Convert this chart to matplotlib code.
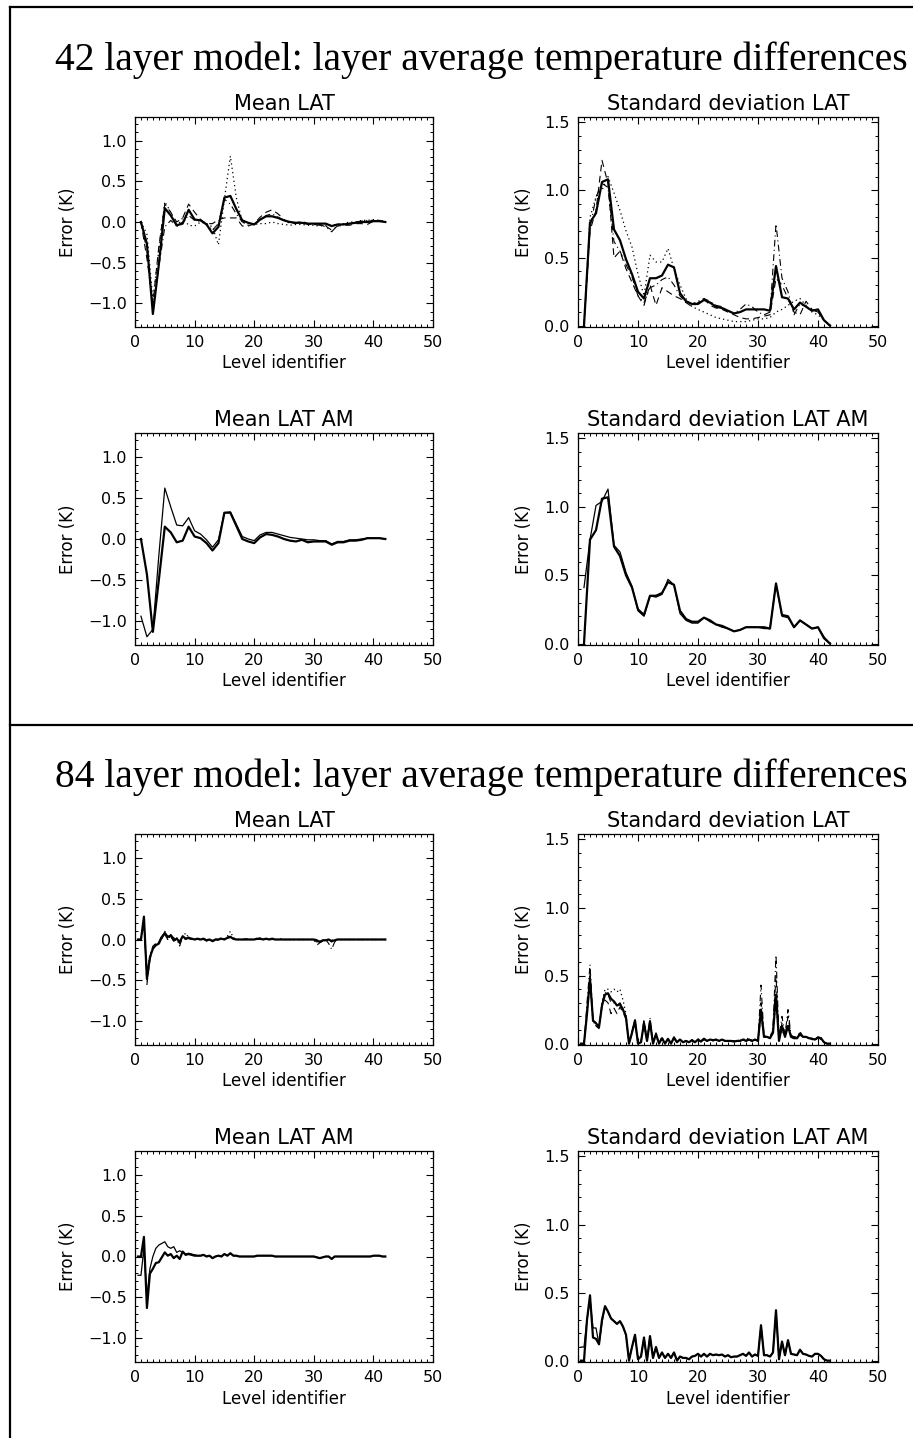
import matplotlib
matplotlib.use("Agg")
import matplotlib.pyplot as plt
from matplotlib.lines import Line2D
from matplotlib.ticker import MultipleLocator

# level identifiers
x42 = list(range(1, 43))
x84 = [0.5 * (i + 1) for i in range(84)]

# ---- 42 layer model ----
mean42_solid = [0.00, -0.27, -1.13, -0.52, 0.17, 0.08, -0.04, -0.02, 0.15, 0.03, 0.02, -0.03, -0.14, -0.06,
                0.30, 0.32, 0.16, 0.02, -0.01, -0.03, 0.03, 0.07, 0.07, 0.05, 0.02, 0.00, -0.01, -0.01,
                -0.02, -0.02, -0.02, -0.02, -0.05, -0.03, -0.03, -0.02, -0.01, 0.00, 0.00, 0.01, 0.01, 0.00]
mean42_dot = [0.00, -0.15, -0.95, -0.35, 0.25, 0.12, -0.06, 0.05, -0.04, -0.05, 0.00, -0.02, -0.06, -0.28,
              0.28, 0.81, 0.30, 0.00, -0.04, -0.03, -0.02, -0.02, 0.00, -0.02, -0.03, -0.04, -0.03, -0.03,
              -0.04, -0.04, -0.05, -0.04, -0.04, -0.03, -0.02, 0.00, 0.00, 0.02, 0.02, 0.03, 0.02, 0.00]
mean42_dash = [0.00, -0.45, -1.00, -0.30, 0.22, 0.12, 0.00, 0.05, 0.22, 0.12, 0.03, -0.02, -0.02, 0.03,
               0.05, 0.05, 0.05, -0.05, -0.05, -0.02, 0.06, 0.12, 0.15, 0.10, 0.03, -0.02, -0.01, 0.01,
               -0.02, -0.03, -0.04, -0.05, -0.10, -0.05, -0.04, -0.04, -0.02, -0.02, -0.03, 0.01, 0.02, 0.00]
mean42_dashdot = [0.00, -0.35, -1.05, -0.55, -0.06, 0.02, -0.05, 0.00, 0.08, 0.02, 0.01, -0.02, -0.10, -0.02,
                  0.28, 0.22, 0.10, 0.00, -0.02, -0.03, 0.02, 0.08, 0.10, 0.06, 0.02, 0.00, -0.02, 0.00,
                  -0.03, -0.03, -0.03, -0.06, -0.12, -0.04, -0.03, -0.02, 0.00, 0.01, 0.02, 0.02, 0.01, 0.00]

std42_solid = [0.00, 0.76, 0.83, 1.06, 1.08, 0.71, 0.63, 0.49, 0.38, 0.25, 0.20, 0.35, 0.35, 0.37,
               0.45, 0.43, 0.24, 0.18, 0.16, 0.16, 0.19, 0.17, 0.14, 0.13, 0.11, 0.09, 0.10, 0.12,
               0.12, 0.12, 0.12, 0.11, 0.44, 0.21, 0.20, 0.12, 0.17, 0.14, 0.11, 0.12, 0.04, 0.00]
std42_dot = [0.00, 0.80, 0.95, 1.00, 1.10, 0.98, 0.85, 0.70, 0.58, 0.38, 0.22, 0.52, 0.47, 0.47,
             0.57, 0.42, 0.30, 0.20, 0.14, 0.12, 0.10, 0.08, 0.06, 0.05, 0.04, 0.03, 0.03, 0.03,
             0.04, 0.05, 0.05, 0.06, 0.10, 0.12, 0.15, 0.18, 0.20, 0.15, 0.10, 0.08, 0.04, 0.00]
std42_dash = [0.00, 0.70, 0.85, 1.22, 1.05, 0.50, 0.55, 0.42, 0.32, 0.22, 0.15, 0.30, 0.15, 0.28,
              0.25, 0.22, 0.20, 0.17, 0.14, 0.17, 0.20, 0.15, 0.13, 0.12, 0.10, 0.08, 0.06, 0.05,
              0.05, 0.06, 0.07, 0.08, 0.35, 0.30, 0.20, 0.10, 0.08, 0.18, 0.12, 0.10, 0.04, 0.00]
std42_dashdot = [0.00, 0.72, 0.95, 1.05, 1.02, 0.62, 0.55, 0.45, 0.36, 0.22, 0.17, 0.28, 0.30, 0.34,
                 0.36, 0.30, 0.22, 0.17, 0.16, 0.18, 0.20, 0.18, 0.15, 0.14, 0.11, 0.09, 0.12, 0.16,
                 0.14, 0.10, 0.08, 0.10, 0.75, 0.35, 0.25, 0.08, 0.16, 0.14, 0.12, 0.10, 0.04, 0.00]

mean42_am_thick = [0.00, -0.43, -1.13, -0.50, 0.15, 0.08, -0.04, -0.02, 0.15, 0.03, 0.01, -0.05, -0.14, -0.05,
                   0.32, 0.32, 0.16, 0.00, -0.03, -0.05, 0.02, 0.06, 0.05, 0.03, 0.00, -0.02, -0.03, -0.01,
                   -0.04, -0.03, -0.03, -0.03, -0.07, -0.04, -0.04, -0.02, -0.02, -0.01, 0.01, 0.01, 0.01, 0.00]
mean42_am_thin = [-0.94, -1.19, -1.10, -0.20, 0.62, 0.39, 0.17, 0.16, 0.26, 0.10, 0.06, -0.01, -0.10, -0.01,
                  0.32, 0.33, 0.18, 0.03, 0.00, -0.02, 0.05, 0.08, 0.08, 0.06, 0.04, 0.02, 0.01, 0.00,
                  -0.01, -0.01, -0.02, -0.02, -0.06, -0.03, -0.03, -0.01, -0.01, 0.00, 0.01, 0.01, 0.01, 0.00]

std42_am_thick = [0.00, 0.76, 0.83, 1.06, 1.07, 0.71, 0.64, 0.50, 0.41, 0.25, 0.21, 0.35, 0.35, 0.37,
                  0.45, 0.43, 0.24, 0.18, 0.16, 0.16, 0.19, 0.17, 0.14, 0.13, 0.11, 0.09, 0.10, 0.12,
                  0.12, 0.12, 0.12, 0.11, 0.44, 0.21, 0.20, 0.12, 0.17, 0.14, 0.11, 0.12, 0.04, 0.00]
std42_am_thin = [0.41, 0.76, 1.01, 1.04, 1.13, 0.72, 0.67, 0.52, 0.42, 0.24, 0.20, 0.35, 0.34, 0.36,
                 0.47, 0.43, 0.22, 0.17, 0.15, 0.15, 0.19, 0.16, 0.14, 0.12, 0.11, 0.09, 0.10, 0.12,
                 0.12, 0.12, 0.11, 0.11, 0.44, 0.20, 0.19, 0.12, 0.17, 0.14, 0.11, 0.12, 0.05, 0.00]

# ---- 84 layer model (two points per 42-level identifier) ----
mean84_solid = [0.00, 0.00, 0.28, -0.48, -0.22, -0.11, -0.07, -0.05, 0.03, 0.08, 0.03, 0.05, -0.01, 0.01,
                -0.03, 0.04, 0.01, 0.02, 0.01, 0.00,
                0.01, 0.00, 0.01, -0.01, 0.00, -0.02, 0.00, 0.00, 0.01, 0.00, 0.02, 0.03, 0.01, 0.00,
                0.00, 0.00, 0.00, 0.00, 0.00, 0.00,
                0.01, 0.01, 0.00, 0.01, 0.00, 0.01, 0.00, 0.00, 0.00, 0.00, 0.00, 0.00, 0.00, 0.00,
                0.00, 0.00, 0.00, 0.00, 0.00, 0.00,
                -0.01, -0.03, -0.01, -0.01, 0.00, -0.02, -0.01, 0.00, 0.00, 0.00, 0.00, 0.00, 0.00, 0.00,
                0.00, 0.00, 0.00, 0.00, 0.00, 0.00, 0.00, 0.00, 0.00, 0.00]
mean84_dot = [0.00, 0.00, 0.20, -0.42, -0.20, -0.10, -0.05, -0.04, 0.02, 0.10, 0.02, 0.03, 0.00, 0.02,
              -0.02, 0.03, 0.08, 0.02, 0.01, 0.00,
              0.01, 0.01, 0.00, 0.00, 0.00, -0.01, 0.00, 0.01, 0.02, 0.01, 0.04, 0.10, 0.02, 0.01,
              0.00, 0.00, 0.00, 0.01, 0.00, 0.00,
              0.01, 0.02, 0.01, 0.01, 0.00, 0.01, 0.00, 0.00, 0.01, 0.00, 0.00, 0.00, 0.00, 0.00,
              0.00, 0.00, 0.00, 0.00, 0.00, 0.00,
              0.00, -0.02, 0.00, -0.01, 0.00, -0.01, 0.00, 0.00, 0.00, 0.00, 0.00, 0.00, 0.00, 0.00,
              0.00, 0.00, 0.00, 0.00, 0.00, 0.00, 0.00, 0.00, 0.00, 0.00]
mean84_dash = [0.00, 0.00, 0.25, -0.55, -0.25, -0.12, -0.06, -0.03, 0.05, 0.06, 0.00, 0.06, 0.02, 0.00,
               -0.05, 0.02, 0.00, 0.03, 0.00, 0.00,
               0.01, -0.01, 0.01, -0.02, 0.00, -0.03, 0.00, -0.01, 0.01, 0.00, 0.02, 0.02, 0.00, 0.00,
               0.00, 0.00, 0.01, 0.00, 0.00, 0.00,
               0.01, 0.00, 0.00, 0.01, 0.00, 0.00, 0.00, 0.00, 0.00, 0.00, 0.00, 0.00, 0.00, 0.00,
               0.00, 0.00, 0.00, 0.00, 0.00, 0.00,
               -0.07, -0.04, -0.02, 0.00, 0.00, -0.03, 0.00, 0.00, 0.00, 0.00, 0.00, 0.00, 0.00, 0.00,
               0.00, 0.00, 0.00, 0.00, 0.00, 0.00, 0.00, 0.00, 0.00, 0.00]
mean84_dashdot = [0.00, 0.00, 0.22, -0.52, -0.20, -0.08, -0.05, -0.04, 0.01, 0.07, 0.04, 0.04, -0.02, 0.00,
                  -0.08, 0.04, 0.02, 0.01, 0.00, 0.00,
                  0.00, 0.00, 0.00, -0.01, 0.00, -0.02, 0.00, 0.00, 0.01, 0.00, 0.03, 0.04, 0.01, 0.00,
                  0.00, 0.00, 0.00, 0.00, 0.00, 0.00,
                  0.00, 0.01, 0.00, 0.00, 0.00, 0.00, 0.00, 0.00, 0.00, 0.00, 0.00, 0.00, 0.00, 0.00,
                  0.00, 0.00, 0.00, 0.00, 0.00, 0.00,
                  -0.03, -0.02, -0.01, 0.00, -0.05, -0.12, -0.03, 0.00, 0.00, 0.00, 0.00, 0.00, 0.00, 0.00,
                  0.00, 0.00, 0.00, 0.00, 0.00, 0.00, 0.00, 0.00, 0.00, 0.00]

std84_solid = [0.00, 0.00, 0.22, 0.48, 0.17, 0.15, 0.12, 0.28, 0.36, 0.37, 0.33, 0.31, 0.28, 0.29,
               0.25, 0.19, 0.00, 0.08, 0.17, 0.00,
               0.01, 0.15, 0.02, 0.16, 0.00, 0.07, 0.00, 0.04, 0.00, 0.035, 0.00, 0.045, 0.01, 0.03,
               0.01, 0.02, 0.01, 0.025, 0.01, 0.03,
               0.015, 0.035, 0.02, 0.03, 0.025, 0.03, 0.02, 0.03, 0.02, 0.02, 0.02, 0.015, 0.02, 0.02,
               0.03, 0.02, 0.03, 0.02, 0.03, 0.02,
               0.25, 0.05, 0.05, 0.04, 0.08, 0.36, 0.02, 0.13, 0.05, 0.13, 0.05, 0.04, 0.04, 0.07,
               0.05, 0.05, 0.04, 0.035, 0.03, 0.045, 0.04, 0.01, 0.00, 0.00]
std84_dot = [0.00, 0.00, 0.20, 0.45, 0.16, 0.14, 0.12, 0.30, 0.40, 0.40, 0.38, 0.40, 0.38, 0.40,
             0.32, 0.22, 0.00, 0.08, 0.16, 0.00,
             0.01, 0.14, 0.02, 0.15, 0.00, 0.06, 0.00, 0.04, 0.00, 0.03, 0.00, 0.04, 0.01, 0.03,
             0.01, 0.02, 0.01, 0.02, 0.01, 0.03,
             0.02, 0.03, 0.02, 0.03, 0.02, 0.03, 0.02, 0.03, 0.02, 0.02, 0.02, 0.02, 0.02, 0.02,
             0.04, 0.02, 0.03, 0.02, 0.03, 0.02,
             0.20, 0.05, 0.05, 0.04, 0.10, 0.30, 0.03, 0.10, 0.05, 0.12, 0.05, 0.04, 0.04, 0.06,
             0.05, 0.05, 0.04, 0.03, 0.03, 0.04, 0.03, 0.01, 0.00, 0.00]
std84_dash = [0.00, 0.00, 0.25, 0.50, 0.15, 0.13, 0.11, 0.27, 0.32, 0.30, 0.22, 0.26, 0.22, 0.27,
              0.23, 0.18, 0.00, 0.07, 0.15, 0.00,
              0.01, 0.16, 0.02, 0.17, 0.00, 0.07, 0.00, 0.04, 0.00, 0.04, 0.00, 0.04, 0.01, 0.03,
              0.01, 0.02, 0.01, 0.02, 0.01, 0.03,
              0.02, 0.03, 0.02, 0.03, 0.02, 0.03, 0.02, 0.03, 0.02, 0.02, 0.02, 0.02, 0.02, 0.03,
              0.03, 0.02, 0.05, 0.02, 0.03, 0.02,
              0.30, 0.05, 0.05, 0.04, 0.10, 0.50, 0.04, 0.15, 0.06, 0.20, 0.06, 0.05, 0.04, 0.08,
              0.05, 0.05, 0.04, 0.04, 0.03, 0.05, 0.04, 0.01, 0.00, 0.00]
std84_dashdot = [0.00, 0.00, 0.30, 0.58, 0.18, 0.15, 0.12, 0.30, 0.38, 0.36, 0.30, 0.30, 0.28, 0.30,
                 0.26, 0.20, 0.00, 0.09, 0.18, 0.00,
                 0.01, 0.18, 0.02, 0.19, 0.00, 0.08, 0.00, 0.05, 0.00, 0.04, 0.00, 0.05, 0.01, 0.03,
                 0.01, 0.02, 0.01, 0.03, 0.01, 0.03,
                 0.02, 0.04, 0.02, 0.03, 0.03, 0.03, 0.02, 0.03, 0.02, 0.02, 0.02, 0.02, 0.02, 0.02,
                 0.03, 0.02, 0.03, 0.02, 0.03, 0.02,
                 0.43, 0.06, 0.05, 0.04, 0.12, 0.65, 0.04, 0.20, 0.06, 0.25, 0.06, 0.05, 0.05, 0.09,
                 0.05, 0.05, 0.04, 0.04, 0.03, 0.05, 0.04, 0.01, 0.00, 0.00]

mean84_am_thick = [0.00, 0.00, 0.24, -0.63, -0.21, -0.15, -0.08, -0.07, -0.01, 0.05, 0.01, 0.03, -0.02, 0.01,
                   -0.03, 0.06, 0.02, 0.03, 0.02, 0.01,
                   0.01, 0.01, 0.02, 0.00, 0.01, -0.02, 0.00, 0.01, 0.00, 0.03, 0.01, 0.04, 0.01, 0.01,
                   0.00, 0.00, 0.00, 0.00, 0.00, 0.00,
                   0.01, 0.01, 0.01, 0.01, 0.01, 0.01, 0.00, 0.00, 0.00, 0.00, 0.00, 0.00, 0.00, 0.00,
                   0.00, 0.00, 0.00, 0.00, 0.00, 0.00,
                   -0.01, -0.02, -0.01, 0.00, 0.00, -0.03, 0.00, 0.00, 0.00, 0.00, 0.00, 0.00, 0.00, 0.00,
                   0.00, 0.00, 0.00, 0.00, 0.00, 0.01, 0.01, 0.01, 0.00, 0.00]
mean84_am_thin = [-0.23, -0.23, 0.10, -0.50, -0.15, 0.00, 0.10, 0.14, 0.16, 0.18, 0.12, 0.10, 0.12, 0.05,
                  0.07, 0.05, 0.03, 0.04, 0.03, 0.02,
                  0.01, 0.01, 0.02, 0.00, 0.01, -0.02, 0.00, 0.01, 0.00, 0.03, 0.01, 0.04, 0.01, 0.01,
                  0.00, 0.00, 0.00, 0.00, 0.00, 0.00,
                  0.01, 0.01, 0.01, 0.01, 0.01, 0.01, 0.00, 0.00, 0.00, 0.00, 0.00, 0.00, 0.00, 0.00,
                  0.00, 0.00, 0.00, 0.00, 0.00, 0.00,
                  -0.01, -0.02, -0.01, 0.00, 0.00, -0.03, 0.00, 0.00, 0.00, 0.00, 0.00, 0.00, 0.00, 0.00,
                  0.00, 0.00, 0.00, 0.00, 0.00, 0.01, 0.01, 0.01, 0.00, 0.00]

std84_am_thick = [0.00, 0.00, 0.30, 0.48, 0.17, 0.16, 0.12, 0.30, 0.40, 0.36, 0.31, 0.29, 0.27, 0.29,
                  0.25, 0.19, 0.00, 0.10, 0.19, 0.01,
                  0.03, 0.17, 0.00, 0.18, 0.02, 0.10, 0.02, 0.06, 0.02, 0.05, 0.02, 0.06, 0.00, 0.03,
                  0.02, 0.02, 0.01, 0.03, 0.035, 0.05,
                  0.03, 0.05, 0.03, 0.05, 0.04, 0.045, 0.04, 0.045, 0.03, 0.04, 0.025, 0.03, 0.03, 0.04,
                  0.05, 0.035, 0.06, 0.03, 0.045, 0.035,
                  0.26, 0.04, 0.04, 0.03, 0.06, 0.37, 0.01, 0.14, 0.04, 0.15, 0.05, 0.045, 0.04, 0.08,
                  0.05, 0.045, 0.035, 0.03, 0.05, 0.05, 0.035, 0.01, 0.00, 0.00]
std84_am_thin = [0.10, 0.10, 0.30, 0.45, 0.24, 0.24, 0.12, 0.28, 0.40, 0.36, 0.31, 0.29, 0.27, 0.29,
                 0.25, 0.19, 0.00, 0.10, 0.19, 0.01,
                 0.03, 0.17, 0.00, 0.18, 0.02, 0.10, 0.02, 0.06, 0.02, 0.05, 0.02, 0.06, 0.00, 0.03,
                 0.02, 0.02, 0.01, 0.03, 0.035, 0.05,
                 0.03, 0.05, 0.03, 0.05, 0.04, 0.045, 0.04, 0.045, 0.03, 0.04, 0.025, 0.03, 0.03, 0.04,
                 0.05, 0.035, 0.06, 0.03, 0.045, 0.035,
                 0.26, 0.04, 0.04, 0.03, 0.06, 0.37, 0.01, 0.14, 0.04, 0.15, 0.05, 0.045, 0.04, 0.08,
                 0.05, 0.045, 0.035, 0.03, 0.05, 0.05, 0.035, 0.01, 0.00, 0.00]

W, H = 913, 1438
fig = plt.figure(figsize=(W / 100, H / 100), dpi=100)
plt.rcParams["font.family"] = "DejaVu Sans"


def panel(left, top, right, bottom, title, kind):
    ax = fig.add_axes([left / W, 1 - bottom / H, (right - left) / W, (bottom - top) / H])
    ax.set_xlim(0, 50)
    ax.xaxis.set_major_locator(MultipleLocator(10))
    ax.xaxis.set_minor_locator(MultipleLocator(1))
    if kind == "mean":
        ax.set_ylim(-1.29, 1.29)
        ax.set_yticks([-1.0, -0.5, 0.0, 0.5, 1.0])
        ax.set_yticklabels(["\u22121.0", "\u22120.5", "0.0", "0.5", "1.0"])
    else:
        ax.set_ylim(-0.01, 1.54)
        ax.set_yticks([0.0, 0.5, 1.0, 1.5])
        ax.set_yticklabels(["0.0", "0.5", "1.0", "1.5"])
    ax.yaxis.set_minor_locator(MultipleLocator(0.1))
    ax.tick_params(which="both", direction="in", top=True, right=True, labelsize=11.5, pad=6)
    ax.tick_params(which="major", length=5, width=0.8)
    ax.tick_params(which="minor", length=2.5, width=0.7)
    for s in ax.spines.values():
        s.set_linewidth(0.9)
    ax.set_title(title, fontsize=15, pad=5)
    ax.set_xlabel("Level identifier", fontsize=12, labelpad=3)
    ax.set_ylabel("Error (K)", fontsize=12, labelpad=8)
    return ax


def four(ax, x, solid, dot, dash, dashdot):
    ax.plot(x, dot, color="k", lw=0.9, ls=(0, (1, 2.5)))
    ax.plot(x, dash, color="k", lw=0.8, ls=(0, (6, 4)))
    ax.plot(x, dashdot, color="k", lw=0.8, ls=(0, (6, 3, 1, 3)))
    ax.plot(x, solid, color="k", lw=1.6)


def two(ax, x, thick, thin):
    ax.plot(x, thin, color="k", lw=0.9)
    ax.plot(x, thick, color="k", lw=1.6)


L1, R1, L2, R2 = 135, 433, 578, 878

ax = panel(L1, 117, R1, 327, "Mean LAT", "mean")
four(ax, x42, mean42_solid, mean42_dot, mean42_dash, mean42_dashdot)
ax = panel(L2, 117, R2, 327, "Standard deviation LAT", "std")
four(ax, x42, std42_solid, std42_dot, std42_dash, std42_dashdot)
ax = panel(L1, 433, R1, 645, "Mean LAT AM", "mean")
two(ax, x42, mean42_am_thick, mean42_am_thin)
ax = panel(L2, 433, R2, 645, "Standard deviation LAT AM", "std")
two(ax, x42, std42_am_thick, std42_am_thin)

ax = panel(L1, 834, R1, 1045, "Mean LAT", "mean")
four(ax, x84, mean84_solid, mean84_dot, mean84_dash, mean84_dashdot)
ax = panel(L2, 834, R2, 1045, "Standard deviation LAT", "std")
four(ax, x84, std84_solid, std84_dot, std84_dash, std84_dashdot)
ax = panel(L1, 1151, R1, 1362, "Mean LAT AM", "mean")
two(ax, x84, mean84_am_thick, mean84_am_thin)
ax = panel(L2, 1151, R2, 1362, "Standard deviation LAT AM", "std")
two(ax, x84, std84_am_thick, std84_am_thin)

# section headings
fig.text(481 / W, 1 - 70 / H, "42 layer model: layer average temperature differences",
         family="Liberation Serif", fontsize=28.5, ha="center", va="baseline")
fig.text(481 / W, 1 - 787 / H, "84 layer model: layer average temperature differences",
         family="Liberation Serif", fontsize=28.5, ha="center", va="baseline")

# frame lines
lx = 9.5 / W
fig.add_artist(Line2D([lx, lx], [0, 1 - 7 / H], transform=fig.transFigure, color="k", lw=1.6))
fig.add_artist(Line2D([lx, 1], [1 - 7 / H, 1 - 7 / H], transform=fig.transFigure, color="k", lw=1.6))
fig.add_artist(Line2D([lx, 1], [1 - 725 / H, 1 - 725 / H], transform=fig.transFigure, color="k", lw=1.6))

fig.savefig("out.png", dpi=100)
